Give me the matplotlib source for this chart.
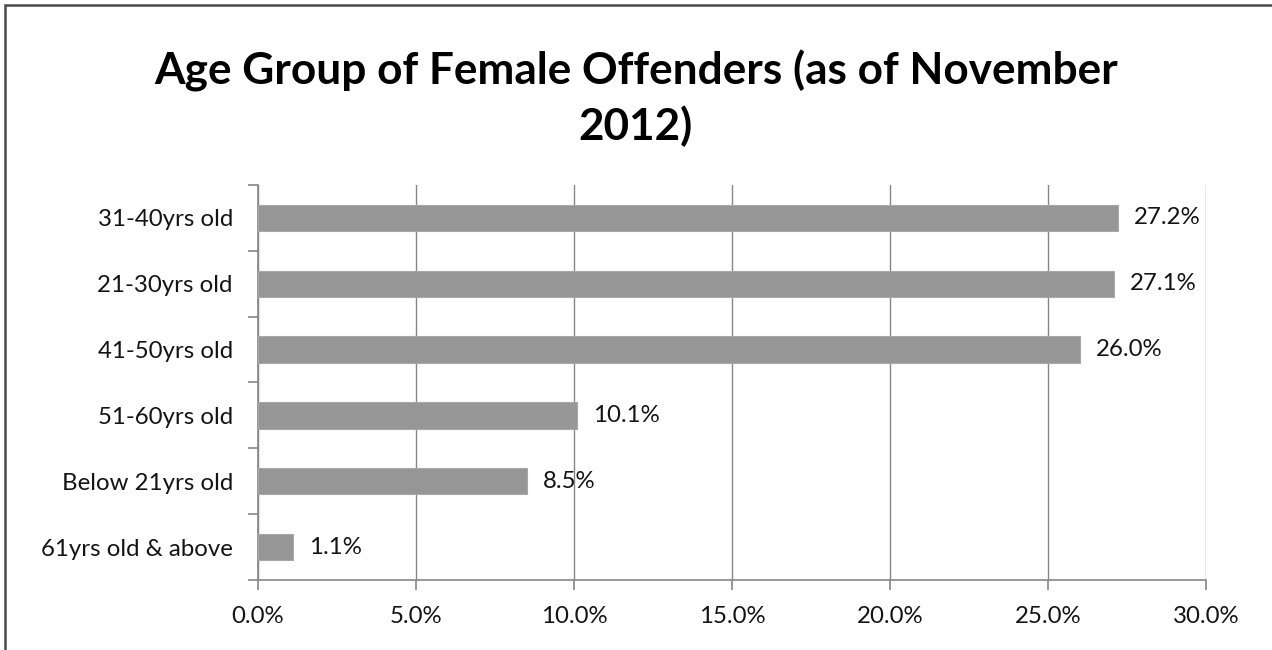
import matplotlib

matplotlib.use("Agg")
import matplotlib.pyplot as plt
from matplotlib.patches import Rectangle
from matplotlib.ticker import FuncFormatter

# data, bottom to top as drawn
age_groups = [
    "61yrs old & above",
    "Below 21yrs old",
    "51-60yrs old",
    "41-50yrs old",
    "21-30yrs old",
    "31-40yrs old",
]
shares = [1.1, 8.5, 10.1, 26.0, 27.1, 27.2]
x_ticks = [0, 5, 10, 15, 20, 25, 30]

TITLE = "Age Group of Female Offenders (as of November\n2012)"
GRID = "#868686"
BAR = "#969696"
TEXT = "#141414"

plt.rcParams["font.family"] = ["Lato", "DejaVu Sans"]

fig = plt.figure(figsize=(12.72, 6.5), dpi=100)
ax = fig.add_axes([0.2028, 0.1077, 0.7453, 0.6077])

ypos = list(range(len(age_groups)))
ax.barh(ypos, shares, height=0.4, color=BAR, edgecolor="#a8a8a8", linewidth=0.8, zorder=3)

for y, v in zip(ypos, shares):
    ax.annotate(f"{v:.1f}%", (v, y), xytext=(11.5, 0), textcoords="offset points",
                va="center", ha="left", fontsize=17.3, color=TEXT)

ax.set_xlim(0, 30)
ax.set_ylim(-0.5, len(age_groups) - 0.5)
ax.set_xticks(x_ticks)
ax.xaxis.set_major_formatter(FuncFormatter(lambda v, _: f"{v:.1f}%"))
ax.set_yticks(ypos)
ax.set_yticklabels(age_groups)
ax.set_yticks([p - 0.5 for p in ypos] + [len(age_groups) - 0.5], minor=True)

ax.grid(axis="x", color=GRID, linewidth=1.0, zorder=0)
for side in ("top", "right"):
    ax.spines[side].set_visible(False)
for side in ("left", "bottom"):
    ax.spines[side].set_color(GRID)
    ax.spines[side].set_linewidth(1.2)

ax.tick_params(axis="x", which="major", length=7, width=1.2, color=GRID,
               labelsize=17.3, labelcolor=TEXT, pad=12)
ax.tick_params(axis="y", which="major", length=0, labelsize=17.3, labelcolor=TEXT, pad=18)
ax.tick_params(axis="y", which="minor", length=7, width=1.2, color=GRID)

fig.text(0.5, 0.848, TITLE, ha="center", va="center", fontsize=31.8, fontweight="bold",
         color="black", linespacing=1.38)

# chart-area border (only left and top visible in the crop)
fig.add_artist(Rectangle((5 / 1272, -0.1), 1.2, 1.1 - 5 / 650, transform=fig.transFigure,
                         fill=False, edgecolor="#4a4a4a", linewidth=1.8))

fig.savefig("out.png", dpi=100)
